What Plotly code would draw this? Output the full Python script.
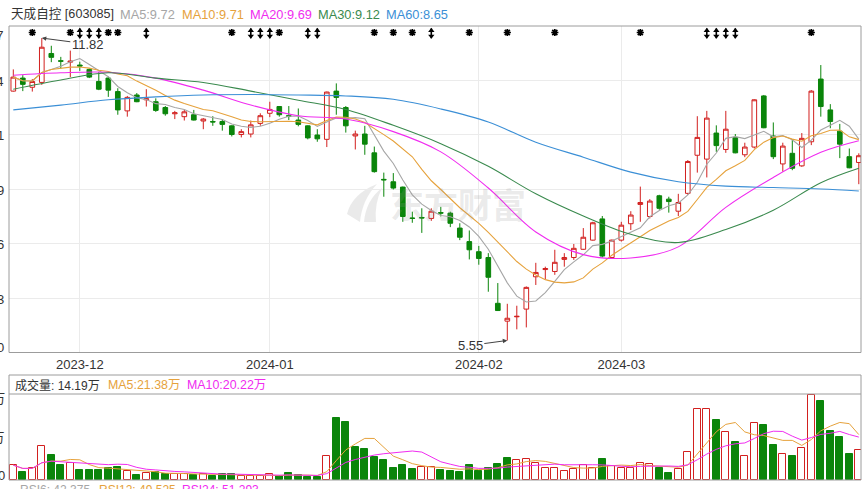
#!/usr/bin/env python3
# -*- coding: utf-8 -*-

import pandas as pd
import plotly.graph_objects as go

# ---------------------------------------------------------------- data
stock_name = "天成自控 [603085]"
month_labels = ["2023-12", "2024-01", "2024-02", "2024-03"]
month_index = [7, 27, 49, 64]

open_ = [10.72, 10.99, 10.80, 10.90, 11.50, 11.35, 11.32, 11.26, 11.17, 10.92,
         10.99, 10.71, 10.31, 10.64, 10.54, 10.50, 10.38, 10.25, 10.19, 10.23,
         10.10, 10.09, 10.09, 10.00, 9.82, 9.83, 10.05, 10.26, 10.40, 10.21,
         10.12, 10.00, 9.81, 9.72, 10.72, 10.38, 9.79, 9.83, 9.44, 8.89,
         8.84, 8.73, 8.09, 8.10, 8.08, 8.20, 8.19, 7.88, 7.60, 7.39,
         7.27, 6.32, 5.95, 6.04, 6.20, 6.87, 7.02, 6.98, 7.23, 7.27,
         7.44, 7.63, 8.07, 7.27, 7.63, 7.97, 8.37, 8.12, 8.55, 8.48,
         8.23, 8.60, 9.39, 9.31, 9.85, 9.51, 9.76, 9.40, 9.56, 10.62,
         9.79, 9.21, 9.43, 9.17, 9.67, 10.97, 10.33, 9.89, 9.36, 9.24]
high = [11.17, 11.05, 10.97, 11.82, 11.66, 11.43, 11.56, 11.33, 11.19, 11.12,
        11.02, 10.78, 10.62, 10.68, 10.76, 10.57, 10.41, 10.31, 10.33, 10.33,
        10.16, 10.20, 10.14, 10.01, 9.93, 10.11, 10.26, 10.50, 10.41, 10.41,
        10.36, 10.01, 9.93, 10.71, 10.88, 10.41, 9.90, 10.00, 9.57, 9.03,
        9.02, 8.74, 8.22, 8.29, 8.29, 8.32, 8.22, 7.98, 7.83, 7.51,
        7.36, 6.74, 6.31, 6.27, 6.67, 7.16, 7.08, 7.43, 7.36, 7.55,
        7.88, 8.01, 8.13, 7.64, 8.01, 8.23, 8.74, 8.48, 8.57, 8.53,
        8.59, 9.29, 10.20, 10.31, 10.01, 10.31, 9.83, 9.65, 10.55, 10.64,
        10.07, 9.65, 9.72, 9.85, 10.74, 11.26, 10.45, 10.04, 9.53, 9.43]
low = [10.71, 10.72, 10.71, 10.85, 11.32, 11.19, 11.01, 11.14, 10.99, 10.74,
       10.60, 10.23, 10.19, 10.49, 10.40, 10.29, 10.21, 10.14, 10.11, 10.11,
       9.93, 10.00, 9.90, 9.78, 9.76, 9.76, 10.00, 10.18, 10.19, 10.12,
       9.99, 9.72, 9.67, 9.56, 10.23, 9.86, 9.51, 9.40, 9.03, 8.53,
       8.68, 8.01, 7.99, 7.78, 8.03, 8.12, 7.90, 7.63, 7.23, 7.12,
       6.56, 6.16, 5.55, 5.78, 5.82, 6.70, 6.82, 6.91, 7.08, 7.22,
       7.43, 7.62, 7.27, 7.25, 7.60, 7.84, 8.01, 8.08, 8.26, 8.20,
       8.13, 8.57, 9.03, 8.93, 9.46, 9.44, 9.43, 9.35, 9.53, 9.95,
       9.31, 9.05, 9.08, 9.15, 9.60, 10.19, 9.95, 9.33, 9.12, 8.79]
close = [11.01, 10.86, 10.92, 11.63, 11.42, 11.34, 11.34, 11.24, 11.01, 10.76,
         10.74, 10.33, 10.59, 10.50, 10.56, 10.32, 10.25, 10.27, 10.29, 10.12,
         10.14, 10.08, 10.03, 9.82, 9.88, 10.02, 10.21, 10.34, 10.23, 10.20,
         10.03, 9.75, 9.73, 10.70, 10.59, 10.00, 9.83, 9.62, 9.05, 8.88,
         8.71, 8.12, 8.08, 8.09, 8.23, 8.19, 7.98, 7.69, 7.43, 7.25,
         6.86, 6.17, 6.01, 6.05, 6.65, 6.96, 7.04, 7.17, 7.27, 7.46,
         7.69, 7.99, 7.30, 7.63, 7.94, 8.15, 8.41, 8.44, 8.29, 8.43,
         8.41, 9.26, 9.76, 10.16, 9.59, 9.93, 9.44, 9.56, 10.54, 9.96,
         9.36, 9.58, 9.12, 9.74, 10.72, 10.40, 10.09, 9.62, 9.13, 9.38]

# volume in 万, 1 = red bar, 0 = green bar
volume = [6.98, 3.94, 5.56, 16.01, 11.88, 6.98, 7.93, 4.75, 4.75, 4.75,
          5.70, 6.18, 4.13, 2.38, 3.18, 3.66, 2.71, 2.85, 2.85, 2.23,
          2.99, 1.90, 2.71, 2.71, 1.90, 1.90, 1.90, 2.71, 1.90, 3.18,
          2.23, 1.57, 1.57, 11.07, 29.31, 27.31, 15.68, 14.58, 10.93, 9.50,
          5.56, 7.13, 5.37, 6.18, 6.18, 4.75, 4.28, 3.94, 7.13, 4.28,
          5.84, 7.74, 10.59, 9.36, 9.83, 8.22, 5.84, 5.84, 4.28, 5.08,
          6.98, 5.84, 9.83, 6.65, 5.84, 5.84, 8.22, 7.46, 5.84, 3.47,
          5.08, 13.30, 33.58, 33.58, 28.03, 22.47, 17.72, 11.40, 26.93, 26.13,
          16.63, 12.21, 11.40, 15.06, 39.95, 37.15, 23.28, 20.09, 12.21, 14.19]
vol_up = [1, 0, 1, 1, 0, 0, 1, 0, 0, 0,
          0, 0, 1, 0, 1, 0, 0, 1, 1, 0,
          1, 0, 0, 0, 1, 1, 1, 1, 0, 0,
          0, 0, 0, 1, 0, 0, 0, 0, 0, 0,
          0, 0, 0, 1, 1, 0, 0, 0, 0, 0,
          0, 0, 0, 1, 1, 1, 1, 1, 1, 1,
          1, 1, 0, 1, 1, 1, 1, 1, 0, 0,
          1, 1, 1, 1, 0, 1, 0, 1, 1, 0,
          0, 1, 0, 1, 1, 0, 0, 0, 0, 1]

# long moving averages at every 5th session
ma_index = [0, 5, 10, 15, 20, 25, 30, 35, 40, 45,
            50, 55, 60, 65, 70, 75, 80, 85, 89]
ma20 = [11.05, 11.10, 11.11, 10.99, 10.74, 10.43, 10.21, 10.14, 9.88, 9.46,
        8.71, 7.80, 7.33, 7.26, 7.49, 8.31, 8.93, 9.45, 9.69]
ma30 = [10.76, 10.95, 11.10, 10.99, 10.90, 10.72, 10.53, 10.34, 10.01, 9.63,
        9.16, 8.59, 8.13, 7.75, 7.58, 7.85, 8.25, 8.82, 9.12]
ma60 = [10.33, 10.43, 10.54, 10.60, 10.64, 10.65, 10.64, 10.62, 10.55, 10.35,
        10.08, 9.66, 9.35, 9.04, 8.84, 8.75, 8.72, 8.69, 8.65]

# event markers on the top row
star_index = [2, 6, 10, 11, 23, 28, 38, 40, 42, 48, 52, 57, 66, 84]
updown_index = [7, 8, 9, 14, 25, 26, 27, 31, 32, 44, 73, 74, 75, 76]

price_ticks = [12.07, 10.94, 9.81, 8.69, 7.56, 6.43, 5.30]
vol_ticks = [40.5, 20.25, 0]

rsi_names = ["RSI6", "RSI12", "RSI24"]
rsi_values = [42.375, 49.525, 51.293]

# ---------------------------------------------------------------- style
RED = "#d2201f"
GREEN = "#0a850a"
C_MA5 = "#a6a6a6"
C_MA10 = "#e6a23c"
C_MA20 = "#f02cf0"
C_MA30 = "#3a8a4e"
C_MA60 = "#3b8fd6"
TXT = "#333333"
BORDER = "#9c9c9c"
GRID = "#ebebeb"
WATER = "rgba(150,150,150,0.2)"
FONT = "Liberation Sans, Noto Sans CJK SC, sans-serif"

W, H = 868, 489
L, R, T, B = 9, 7, 26, 9
PW, PH = W - L - R, H - T - B
PX_PER_UNIT = (352.5 - 26) / (price_ticks[0] - price_ticks[-1])


def px_x(px):
    return (px - L) / PW


def px_y(py):
    return (H - B - py) / PH


def px_path(points):
    # points in pixels -> closed svg path in paper units
    cmds = []
    for cmd, pts in points:
        cmds.append(cmd + " " + " ".join("%.5f,%.5f" % (px_x(a), px_y(b))
                                         for a, b in pts))
    return " ".join(cmds) + " Z"


idx = list(range(len(close)))
ma5 = pd.Series(close).rolling(5, min_periods=1).mean()
ma10 = pd.Series(close).rolling(10, min_periods=1).mean()
vol_ma5 = pd.Series(volume).rolling(5, min_periods=1).mean()
vol_ma10 = pd.Series(volume).rolling(10, min_periods=1).mean()

fig = go.Figure()

fig.add_trace(go.Candlestick(
    x=idx, open=open_, high=high, low=low, close=close,
    increasing=dict(line=dict(color=RED, width=1), fillcolor="white"),
    decreasing=dict(line=dict(color=GREEN, width=1), fillcolor=GREEN),
    whiskerwidth=0, showlegend=False, hoverinfo="skip",
    xaxis="x", yaxis="y"))

for xs, ys, color, shape in [(idx, ma5, C_MA5, "linear"),
                             (idx, ma10, C_MA10, "linear"),
                             (ma_index, ma20, C_MA20, "spline"),
                             (ma_index, ma30, C_MA30, "spline"),
                             (ma_index, ma60, C_MA60, "spline")]:
    fig.add_trace(go.Scatter(x=xs, y=ys, mode="lines",
                             line=dict(color=color, width=1.1, shape=shape),
                             showlegend=False, hoverinfo="skip",
                             xaxis="x", yaxis="y"))

# markers row
star_y = price_ticks[0] - 6.5 / PX_PER_UNIT
arrow_y = price_ticks[0] - 7.3 / PX_PER_UNIT
d = 2.8 / PX_PER_UNIT
fig.add_trace(go.Scatter(
    x=star_index, y=[star_y] * len(star_index), mode="markers",
    marker=dict(symbol="asterisk", size=6,
                line=dict(color="black", width=1.7)),
    showlegend=False, hoverinfo="skip", xaxis="x", yaxis="y"))
fig.add_trace(go.Scatter(
    x=updown_index, y=[arrow_y] * len(updown_index), mode="markers",
    marker=dict(symbol="line-ns", size=7,
                line=dict(color="black", width=1.6)),
    showlegend=False, hoverinfo="skip", xaxis="x", yaxis="y"))
fig.add_trace(go.Scatter(
    x=updown_index, y=[arrow_y + d] * len(updown_index), mode="markers",
    marker=dict(symbol="triangle-up", size=5.5, color="black"),
    showlegend=False, hoverinfo="skip", xaxis="x", yaxis="y"))
fig.add_trace(go.Scatter(
    x=updown_index, y=[arrow_y - d] * len(updown_index), mode="markers",
    marker=dict(symbol="triangle-down", size=5.5, color="black"),
    showlegend=False, hoverinfo="skip", xaxis="x", yaxis="y"))

# volume
fig.add_trace(go.Bar(
    x=idx, y=volume, width=0.74,
    marker=dict(color=["white" if u else GREEN for u in vol_up],
                line=dict(color=[RED if u else GREEN for u in vol_up],
                          width=1)),
    showlegend=False, hoverinfo="skip", xaxis="x2", yaxis="y2"))
fig.add_trace(go.Scatter(x=idx, y=vol_ma5, mode="lines",
                         line=dict(color=C_MA10, width=1),
                         showlegend=False, hoverinfo="skip",
                         xaxis="x2", yaxis="y2"))
fig.add_trace(go.Scatter(x=idx, y=vol_ma10, mode="lines",
                         line=dict(color=C_MA20, width=1),
                         showlegend=False, hoverinfo="skip",
                         xaxis="x2", yaxis="y2"))

x_range = [-0.453, len(close) - 1 + 0.23]
main_bottom = px_y(352.5)
vol_top = px_y(394)

annotations = []


def label(text, x, y, color=TXT, size=13, xanchor="left", yanchor="middle",
          xref="paper", yref="paper", yshift=0):
    annotations.append(dict(text=text, x=x, y=y, xref=xref, yref=yref,
                            xanchor=xanchor, yanchor=yanchor, yshift=yshift,
                            showarrow=False,
                            font=dict(family=FONT, size=size, color=color)))


# header
label(stock_name, px_x(9), px_y(14), size=12.6)
header = [("MA5:%.2f" % ma5.iloc[-1], C_MA5, 118),
          ("MA10:%.2f" % ma10.iloc[-1], C_MA10, 180),
          ("MA20:%.2f" % ma20[-1], C_MA20, 248),
          ("MA30:%.2f" % ma30[-1], C_MA30, 316),
          ("MA60:%.2f" % ma60[-1], C_MA60, 384)]
for text, color, xpx in header:
    label(text, px_x(xpx), px_y(14), color=color, size=12.8)

# price axis labels (cut by the left edge as in the original)
for k, v in enumerate(price_ticks):
    shift = -9 if k == 0 else (5.5 if k == len(price_ticks) - 1 else -1)
    label("%.2f" % v, px_x(6), v, xanchor="right", yref="y", yshift=shift)

# volume axis labels
for v, ypx in zip(vol_ticks, [398, 437, 475.5]):
    label(("%g万" % v) if v else "0", px_x(6.5), px_y(ypx), xanchor="right")

# volume header
label("成交量: %.2f万" % volume[-1], px_x(12.5), px_y(385), size=12)
label("MA5:%.2f万" % vol_ma5.iloc[-1], px_x(106), px_y(385),
      color=C_MA10, size=12.4)
label("MA10:%.2f万" % vol_ma10.iloc[-1], px_x(185), px_y(385),
      color=C_MA20, size=12.4)

# RSI line at the very bottom (cut by the window)
for name, val, color, xpx in zip(rsi_names, rsi_values,
                                 [C_MA5, C_MA10, C_MA20], [18, 97, 180]):
    label("%s: %.3f" % (name, val), px_x(xpx), px_y(490.5), color=color,
          size=12)

# high / low callouts
hi_i = high.index(max(high))
lo_i = low.index(min(low))
for i, v, ax, ay in [(hi_i, high[hi_i], 46, 6), (lo_i, low[lo_i], -37, 5)]:
    annotations.append(dict(
        x=i, y=v, xref="x", yref="y", text="%.2f" % v, showarrow=True,
        ax=ax, ay=ay, arrowhead=2, arrowsize=0.9, arrowwidth=1,
        arrowcolor="#444444", font=dict(family=FONT, size=13, color=TXT)))

# watermark
annotations.append(dict(
    text="<b>东方财富</b>", x=px_x(458), y=px_y(203), xref="paper",
    yref="paper", showarrow=False,
    font=dict(family="Noto Sans CJK SC", size=34, color=WATER)))

shapes = [
    # watermark logo swoosh
    dict(type="path", xref="paper", yref="paper", layer="below",
         fillcolor=WATER, line=dict(width=0),
         path=px_path([("M", [(347, 214)]),
                       ("Q", [(352, 194), (377, 184)]),
                       ("Q", [(362, 200), (360, 222)])])),
    dict(type="path", xref="paper", yref="paper", layer="below",
         fillcolor=WATER, line=dict(width=0),
         path=px_path([("M", [(364, 222)]),
                       ("Q", [(366, 200), (382, 188)]),
                       ("Q", [(374, 204), (376, 222)])])),
    dict(type="rect", xref="paper", yref="paper", x0=0, x1=1,
         y0=main_bottom, y1=1, line=dict(color=BORDER, width=1),
         layer="above"),
    dict(type="rect", xref="paper", yref="paper", x0=0, x1=1,
         y0=0, y1=px_y(375), line=dict(color=BORDER, width=1),
         layer="above"),
    dict(type="line", xref="paper", yref="paper", x0=0, x1=1,
         y0=vol_top, y1=vol_top, line=dict(color=BORDER, width=1),
         layer="above"),
]

fig.update_layout(
    width=W, height=H,
    margin=dict(l=L, r=R, t=T, b=B, pad=0),
    paper_bgcolor="white", plot_bgcolor="white",
    font=dict(family=FONT, size=13, color=TXT),
    showlegend=False, hovermode=False, bargap=0,
    xaxis=dict(domain=[0, 1], anchor="y", range=x_range,
               tickmode="array", tickvals=month_index, ticktext=month_labels,
               showgrid=True, gridcolor=GRID, gridwidth=1, zeroline=False,
               showline=False, ticks="", tickfont=dict(size=13, color=TXT),
               ticklabelstandoff=2, rangeslider=dict(visible=False),
               fixedrange=True),
    yaxis=dict(domain=[main_bottom, 1], anchor="x", range=[5.30, 12.07],
               tickmode="array", tickvals=price_ticks, showticklabels=False,
               showgrid=True, gridcolor=GRID, gridwidth=1, zeroline=False,
               showline=False, ticks="", fixedrange=True),
    xaxis2=dict(domain=[0, 1], anchor="y2", range=x_range, matches="x",
                showticklabels=False, showgrid=False, zeroline=False,
                ticks="", fixedrange=True),
    yaxis2=dict(domain=[0, vol_top], anchor="x2", range=[0, 40.5],
                showticklabels=False, showgrid=False, zeroline=False,
                ticks="", fixedrange=True),
    annotations=annotations,
    shapes=shapes,
)

fig.write_html("out.html", config={"displayModeBar": False},
               post_script="document.body.style.margin='0px';"
                           "document.body.style.overflow='hidden';")
